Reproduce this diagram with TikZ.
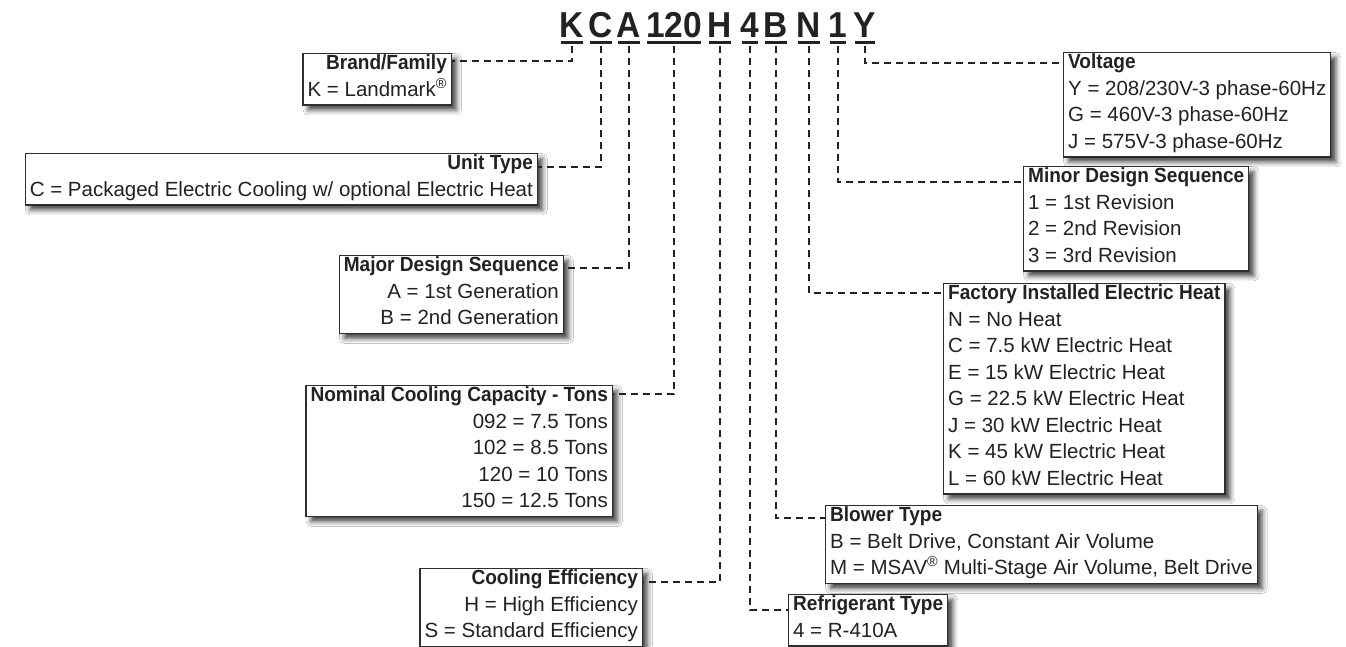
\documentclass[tikz,border=0pt]{standalone}
\usepackage{fontspec}
\setmainfont{Liberation Sans}[BoldFeatures={FakeStretch=0.93}]
\definecolor{codeInk}{HTML}{222222}
\definecolor{codeFrame}{HTML}{2E2E2E}
\usetikzlibrary{shadows.blur}

\begin{document}
\begin{tikzpicture}[x=1pt, y=-1pt,
  codechar/.style={anchor=base, inner sep=0pt, text=codeInk,
    font=\fontsize{36}{40}\selectfont\bfseries},
  codeline/.style={line width=3pt, codeInk},
  infobox/.style={draw=codeFrame, line width=1.3pt, fill=white, text=codeInk,
    inner xsep=4.5pt, inner ysep=1pt, font=\fontsize{20.5}{26.5}\selectfont,
    execute at begin node=\strut, execute at end node=\strut,
    blur shadow={shadow xshift=5pt, shadow yshift=-5pt, shadow blur radius=5pt,
      shadow opacity=75}},
  leftbox/.style={infobox, anchor=north east, align=right},
  rightbox/.style={infobox, anchor=north west, align=left},
  leader/.style={line width=2.2pt, codeInk, dash pattern=on 7pt off 5pt}]

  \fill[white] (0,0) rectangle (1346,646);
  \useasboundingbox (0,0) rectangle (1346,646);

  % model number
  \foreach \n/\x/\t in {cK/572/K, cC/601/C, cA/629/A, c120/674/120, cH/720/H,
      c4/750/4, cB/776/B, cN/809/N, c1/838/1, cY/865/Y}
    \node[codechar] (\n) at (\x,37) {\t};
  \foreach \n in {cK, cC, cA, c120, cH, c4, cB, cN, c1, cY}
    \draw[codeline] ([xshift=1.5pt, yshift=-5pt]\n.base west) -- ([xshift=-1.5pt, yshift=-5pt]\n.base east);

  % left column
  \node[leftbox] (brand) at (452,53) {{\bfseries Brand/Family}\\K = Landmark\textsuperscript{®}};
  \node[leftbox] (unit) at (538,153) {{\bfseries Unit Type}\\C = Packaged Electric Cooling w/ optional Electric Heat};
  \node[leftbox] (major) at (564,255) {{\bfseries Major Design Sequence}\\A = 1st Generation\\B = 2nd Generation};
  \node[leftbox] (ncc) at (613,385) {{\bfseries Nominal Cooling Capacity - Tons}\\092 = 7.5 Tons\\102 = 8.5 Tons\\120 = 10 Tons\\150 = 12.5 Tons};
  \node[leftbox] (ceff) at (643,568) {{\bfseries Cooling Efficiency}\\H = High Efficiency\\S = Standard Efficiency};

  % right column
  \node[rightbox] (voltage) at (1063,52) {{\bfseries Voltage}\\Y = 208/230V-3 phase-60Hz\\G = 460V-3 phase-60Hz\\J = 575V-3 phase-60Hz};
  \node[rightbox] (minor) at (1023,166) {{\bfseries Minor Design Sequence}\\1 = 1st Revision\\2 = 2nd Revision\\3 = 3rd Revision};
  \node[rightbox] (factory) at (943,283) {{\bfseries Factory Installed Electric Heat}\\N = No Heat\\C = 7.5 kW Electric Heat\\E = 15 kW Electric Heat\\G = 22.5 kW Electric Heat\\J = 30 kW Electric Heat\\K = 45 kW Electric Heat\\L = 60 kW Electric Heat};
  \node[rightbox] (blower) at (825,505) {{\bfseries Blower Type}\\B = Belt Drive, Constant Air Volume\\M = MSAV\textsuperscript{®} Multi-Stage Air Volume, Belt Drive};
  \node[rightbox] (refr) at (788,594) {{\bfseries Refrigerant Type}\\4 = R-410A};

  % leaders
  \draw[leader] ([yshift=-9pt]cK.base) |- ([yshift=-8pt]brand.north east);
  \draw[leader] ([yshift=-9pt]cC.base) |- ([yshift=-14pt]unit.north east);
  \draw[leader] ([yshift=-9pt]cA.base) |- ([yshift=-13pt]major.north east);
  \draw[leader] ([yshift=-9pt]c120.base) |- ([yshift=-9pt]ncc.north east);
  \draw[leader] ([yshift=-9pt]cH.base) |- ([yshift=-14pt]ceff.north east);
  \draw[leader] ([yshift=-9pt]c4.base) |- ([yshift=-16pt]refr.north west);
  \draw[leader] ([yshift=-9pt]cB.base) |- ([yshift=-13pt]blower.north west);
  \draw[leader] ([yshift=-9pt]cN.base) |- ([yshift=-10pt]factory.north west);
  \draw[leader] ([yshift=-9pt]c1.base) |- ([yshift=-16pt]minor.north west);
  \draw[leader] ([yshift=-9pt]cY.base) |- ([yshift=-11pt]voltage.north west);
\end{tikzpicture}
\end{document}
